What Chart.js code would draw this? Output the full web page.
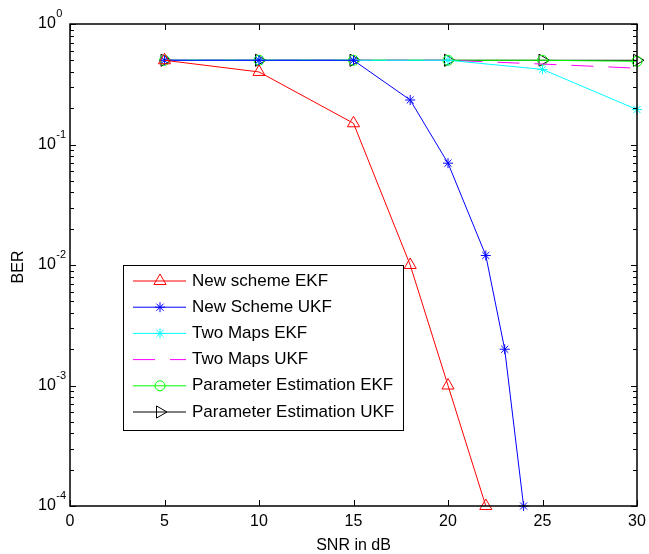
<!DOCTYPE html>
<html lang="en">
<head>
    <meta charset="UTF-8">
    <title>BER vs SNR</title>
    <script src="https://cdn.jsdelivr.net/npm/chart.js"></script>
    <style>
        body { margin: 0; background: #fff; }
        #ber-chart { display: block; }
    </style>
</head>
<body>
    <canvas id="ber-chart" width="649" height="554"></canvas>

    <script>
        // Data
        const snrAll = [5, 10, 15, 20, 25, 30];
        const snrNewEKF = [5, 10, 15, 18, 20, 22];
        const berNewEKF = [0.5, 0.40, 0.15, 0.01, 0.001, 0.0001];
        const snrNewUKF = [5, 10, 15, 18, 20, 22, 23, 24];
        const berNewUKF = [0.5, 0.5, 0.5, 0.234, 0.07, 0.012, 0.002, 0.0001];
        const berTwoMapsEKF = [0.5, 0.5, 0.5, 0.5, 0.42, 0.195];
        const berTwoMapsUKF = [0.5, 0.5, 0.5, 0.5, 0.465, 0.43];
        const berParamEKF = [0.5, 0.5, 0.5, 0.5, 0.5, 0.49];
        const berParamUKF = [0.5, 0.5, 0.5, 0.5, 0.5, 0.5];

        const xTicks = [0, 5, 10, 15, 20, 25, 30];
        const yTicks = [1e-4, 1e-3, 1e-2, 1e-1, 1];
        const yTickExp = ['-4', '-3', '-2', '-1', '0'];

        const font = '"Liberation Sans", Arial, sans-serif';
        const toXY = (xs, ys) => xs.map((x, i) => ({ x: x, y: ys[i] }));

        function series(label, xs, ys, color, style, radius, extra) {
            return Object.assign({
                label: label,
                data: toXY(xs, ys),
                borderColor: color,
                borderWidth: 1,
                pointStyle: style,
                pointRadius: radius,
                pointBorderColor: color,
                pointBackgroundColor: 'rgba(0,0,0,0)',
                pointBorderWidth: 1,
                tension: 0,
                fill: false,
                clip: false
            }, extra || {});
        }

        // axes, ticks, box and legend drawn by hand (MATLAB look)
        const matlabAxes = {
            id: 'matlabAxes',
            afterDraw(chart) {
                const ctx = chart.ctx;
                const a = chart.chartArea;
                const xs = chart.scales.x, ys = chart.scales.y;
                ctx.save();
                ctx.strokeStyle = '#000';
                ctx.lineWidth = 1;

                // ticks
                ctx.beginPath();
                xTicks.forEach(v => {
                    const px = Math.round(xs.getPixelForValue(v)) + 0.5;
                    ctx.moveTo(px, a.bottom); ctx.lineTo(px, a.bottom - 6);
                    ctx.moveTo(px, a.top); ctx.lineTo(px, a.top + 6);
                });
                yTicks.forEach((v, i) => {
                    for (let k = 1; k <= 9; k++) {
                        const val = v * k;
                        if (val > 1) break;
                        const py = Math.round(ys.getPixelForValue(val)) + 0.5;
                        const len = k === 1 ? 6 : 4;
                        ctx.moveTo(a.left, py); ctx.lineTo(a.left + len, py);
                        ctx.moveTo(a.right, py); ctx.lineTo(a.right - len, py);
                    }
                });
                ctx.stroke();

                // box
                ctx.lineWidth = 1.5;
                ctx.strokeRect(a.left, a.top, a.right - a.left, a.bottom - a.top);

                // tick labels
                ctx.fillStyle = '#000';
                ctx.font = '16px ' + font;
                ctx.textAlign = 'center';
                ctx.textBaseline = 'middle';
                xTicks.forEach(v => ctx.fillText(String(v), xs.getPixelForValue(v), a.bottom + 16));

                yTicks.forEach((v, i) => {
                    const py = ys.getPixelForValue(v);
                    ctx.font = '16px ' + font;
                    ctx.textAlign = 'left';
                    ctx.textBaseline = 'middle';
                    ctx.fillText('10', 38, py);
                    const w = ctx.measureText('10').width;
                    ctx.font = '11px ' + font;
                    ctx.fillText(yTickExp[i], 38 + w + 0.5, py - 10);
                });

                // axis titles
                ctx.font = '16px ' + font;
                ctx.textAlign = 'center';
                ctx.fillText('SNR in dB', (a.left + a.right) / 2, a.bottom + 40);
                ctx.save();
                ctx.translate(19, (a.top + a.bottom) / 2 + 2);
                ctx.rotate(-Math.PI / 2);
                ctx.fillText('BER', 0, 0);
                ctx.restore();

                // legend
                const lx = 123.5, ly = 265.5, lw = 280, lh = 165;
                ctx.fillStyle = '#fff';
                ctx.fillRect(lx, ly, lw, lh);
                ctx.lineWidth = 1;
                ctx.strokeStyle = '#000';
                ctx.strokeRect(lx, ly, lw, lh);
                chart.data.datasets.forEach((ds, i) => {
                    const y = 281 + i * 26.2;
                    ctx.save();
                    ctx.strokeStyle = ds.borderColor;
                    ctx.lineWidth = 1;
                    ctx.setLineDash(ds.borderDash || []);
                    ctx.beginPath();
                    ctx.moveTo(133, y); ctx.lineTo(186, y);
                    ctx.stroke();
                    ctx.setLineDash([]);
                    if (ds.pointRadius > 0) {
                        ctx.fillStyle = 'rgba(0,0,0,0)';
                        Chart.helpers.drawPoint(ctx, {
                            pointStyle: ds.pointStyle,
                            rotation: ds.pointRotation || 0,
                            radius: ds.pointRadius,
                            borderWidth: 1
                        }, 160, y);
                    }
                    ctx.restore();
                    ctx.fillStyle = '#000';
                    ctx.font = '17px ' + font;
                    ctx.textAlign = 'left';
                    ctx.textBaseline = 'middle';
                    ctx.fillText(ds.label, 192, y);
                });
                ctx.restore();
            }
        };

        new Chart(document.getElementById('ber-chart'), {
            type: 'line',
            data: {
                datasets: [
                    series('New scheme EKF', snrNewEKF, berNewEKF, '#ff0000', 'triangle', 7),
                    series('New Scheme UKF', snrNewUKF, berNewUKF, '#0000ff', 'star', 5),
                    series('Two Maps EKF', snrAll, berTwoMapsEKF, '#00ffff', 'star', 5),
                    series('Two Maps UKF', snrAll, berTwoMapsUKF, '#ff00ff', 'circle', 0, { borderDash: [22, 15] }),
                    series('Parameter Estimation EKF', snrAll, berParamEKF, '#00ff00', 'circle', 5),
                    series('Parameter Estimation UKF', snrAll, berParamUKF, '#000000', 'triangle', 7, { pointRotation: 90 })
                ]
            },
            options: {
                responsive: false,
                animation: false,
                layout: { padding: { left: 70, top: 24, right: 12, bottom: 48 } },
                plugins: { legend: { display: false }, tooltip: { enabled: false } },
                scales: {
                    x: { type: 'linear', min: 0, max: 30, display: false },
                    y: { type: 'logarithmic', min: 1e-4, max: 1, display: false }
                }
            },
            plugins: [matlabAxes]
        });
    </script>
</body>
</html>
